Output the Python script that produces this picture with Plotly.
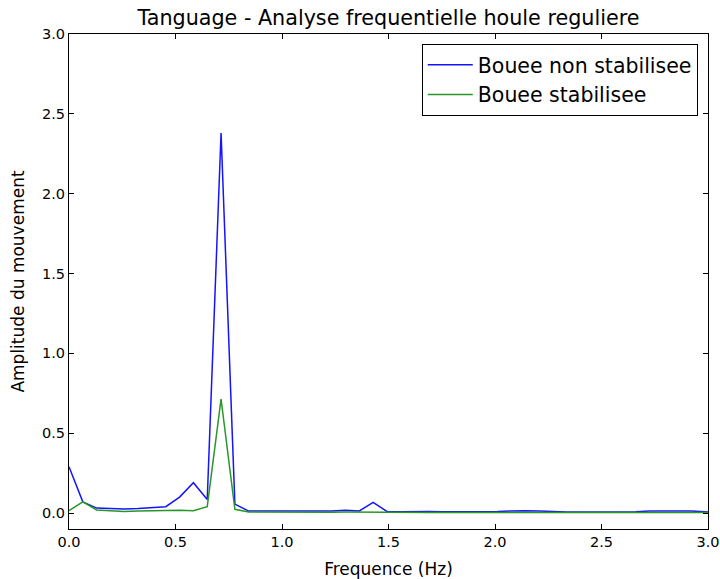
import numpy as np
import plotly.graph_objects as go

freq_step = 0.0649
freq = [round(i * freq_step, 4) for i in range(48)]

bouee_non_stab = [0.29, 0.07, 0.031, 0.027, 0.025, 0.028, 0.033, 0.04, 0.10, 0.19,
                  0.085, 2.38, 0.056, 0.012, 0.012, 0.012, 0.013, 0.013, 0.012, 0.013,
                  0.017, 0.013, 0.067, 0.010, 0.008, 0.010, 0.009, 0.008, 0.008, 0.008,
                  0.008, 0.009, 0.013, 0.015, 0.012, 0.008, 0.007, 0.007, 0.007, 0.007,
                  0.007, 0.008, 0.012, 0.012, 0.015, 0.012, 0.008, 0.0]

bouee_stab = [0.015, 0.07, 0.019, 0.013, 0.010, 0.012, 0.015, 0.017, 0.018, 0.015,
              0.04, 0.714, 0.023, 0.007, 0.006, 0.005, 0.005, 0.005, 0.005, 0.005,
              0.006, 0.005, 0.008, 0.004, 0.004, 0.004, 0.004, 0.004, 0.004, 0.004,
              0.004, 0.004, 0.005, 0.006, 0.005, 0.004, 0.004, 0.004, 0.004, 0.004,
              0.004, 0.004, 0.005, 0.005, 0.006, 0.005, 0.004, 0.0]

x_ticks = [0.0, 0.5, 1.0, 1.5, 2.0, 2.5, 3.0]
y_ticks = [0.0, 0.5, 1.0, 1.5, 2.0, 2.5, 3.0]

FONT = "DejaVu Sans"
W, H = 720, 579

fig = go.Figure()
fig.add_trace(go.Scatter(x=freq, y=bouee_non_stab, mode="lines", name="Bouee non stabilisee",
                         line=dict(color="rgb(20,20,255)", width=1.5)))
fig.add_trace(go.Scatter(x=freq, y=bouee_stab, mode="lines", name="Bouee stabilisee",
                         line=dict(color="rgb(40,150,40)", width=1.5)))

axis_common = dict(showgrid=False, zeroline=False, showline=True, linecolor="black",
                   linewidth=1, mirror="allticks", ticks="inside", ticklen=5,
                   tickcolor="black", tickfont=dict(family=FONT, size=14.5, color="black"),
                   tickformat=".1f", automargin=False)

fig.update_layout(
    width=W, height=H,
    paper_bgcolor="white", plot_bgcolor="white",
    margin=dict(l=69, r=12, t=34, b=50),
    font=dict(family=FONT, color="black"),
    title=dict(text="Tanguage - Analyse frequentielle houle reguliere",
               font=dict(family=FONT, size=20.7, color="black"),
               x=0.5, xref="paper", xanchor="center",
               y=1 - 18 / H, yref="container", yanchor="middle"),
    xaxis=dict(range=[0, 3.0], tickvals=x_ticks,
               title=dict(text="Frequence (Hz)", font=dict(family=FONT, size=17), standoff=14),
               **axis_common),
    yaxis=dict(range=[-0.1, 3.0], tickvals=y_ticks,
               title=dict(text="Amplitude du mouvement", font=dict(family=FONT, size=17), standoff=13),
               **axis_common),
    legend=dict(x=0.984, xanchor="right", y=0.98, yanchor="top",
                bordercolor="black", borderwidth=1, bgcolor="white",
                itemwidth=45,
                font=dict(family=FONT, size=20.5, color="black")),
    showlegend=True,
)

fig.write_html("out.html", config={"displayModeBar": False},
               post_script="document.body.style.margin='0';")
